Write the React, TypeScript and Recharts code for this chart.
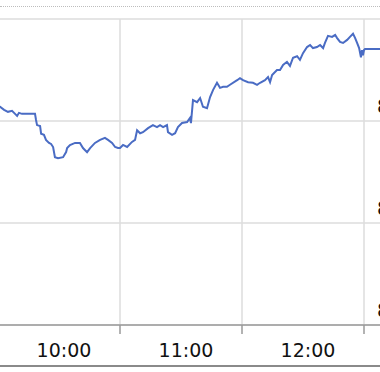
import { LineChart, Line, XAxis, YAxis, CartesianGrid } from 'recharts';

// minutes since midnight
const times = [
  570, 571, 573, 574.9, 576.9, 578.4, 579.4, 580.3, 581.8, 588.2, 588.7, 589.2,
  590.7, 591.2, 592.6, 593.6, 595.1, 596.1, 597.1, 598, 599.5, 602, 603.5, 604,
  605.4, 607.9, 610.3, 611.8, 613.8, 615.3, 617.7, 620.2, 622.6, 624.1, 626.1,
  627.6, 629, 630, 631.5, 633.5, 635.9, 637.4, 638.4, 639.9, 641.3, 643.8, 646.2,
  648.2, 649.7, 651.2, 653.1, 653.6, 655.6, 657.1, 658.5, 660.5, 663, 664.4,
  664.9, 665.9, 667.9, 669.4, 670.8, 672.8, 674.3, 675.8, 677.7, 679.2, 680.7,
  682.6, 684.1, 687.6, 689, 690.5, 693, 695.4, 697.4, 698.9, 701.3, 702.8, 703.8,
  704.8, 707.2, 708.7, 710.2, 712.1, 713.6, 715.1, 717.1, 718.5, 720, 722, 723.5,
  724.9, 726.9, 728.4, 729.9, 730.8, 732.3, 734.3, 735.8, 736.7, 738.2, 739.7,
  741.7, 743.1, 744.6, 745.6, 746.6, 747.6, 748.5, 749, 749.5, 750, 750.5, 780,
];

const prices = [
  8402.8, 8402.8, 8402.2, 8401.8, 8402.0, 8401.4, 8401.0, 8401.6, 8401.4, 8401.4,
  8400.2, 8399.2, 8399.0, 8397.5, 8397.3, 8396.3, 8395.7, 8395.5, 8394.9, 8392.9,
  8392.7, 8392.9, 8393.9, 8394.7, 8395.3, 8395.7, 8395.7, 8394.7, 8393.9, 8394.7,
  8395.7, 8396.3, 8396.7, 8396.3, 8395.7, 8394.9, 8394.7, 8394.7, 8395.3, 8394.9,
  8395.9, 8396.3, 8398.2, 8397.6, 8397.8, 8398.6, 8399.2, 8398.8, 8399.2, 8398.8,
  8399.2, 8397.8, 8397.3, 8397.6, 8398.8, 8399.6, 8399.8, 8400.6, 8399.6, 8404.1,
  8403.7, 8404.5, 8402.8, 8402.5, 8404.7, 8406.1, 8407.5, 8406.5, 8406.7, 8406.7,
  8407.1, 8408.0, 8408.4, 8408.0, 8407.6, 8407.5, 8407.1, 8407.5, 8408.0, 8408.6,
  8407.6, 8409.0, 8410.0, 8410.0, 8411.0, 8411.6, 8410.8, 8412.4, 8412.7, 8412.0,
  8413.3, 8414.5, 8414.9, 8414.3, 8414.5, 8414.9, 8414.3, 8415.3, 8416.7, 8416.5,
  8416.9, 8416.3, 8415.5, 8415.3, 8415.9, 8416.5, 8417.1, 8416.3, 8415.3, 8414.3,
  8412.5, 8413.9, 8412.9, 8413.9, 8414.1, 8414.1,
];

const gridTicks = [630, 690, 750];
const labelTicks = [600, 660, 720];
const priceTicks = [8360, 8380, 8400, 8420];

const data = times.map((t, i) => ({ t, price: prices[i] }));

const fmtTime = (m: number) =>
  `${Math.floor(m / 60)}:${String(m % 60).padStart(2, '0')}`;

const font = '"DejaVu Sans", Verdana, sans-serif';

export default function App() {
  return (
    <div
      style={{
        position: 'fixed',
        left: 0,
        top: 0,
        width: 380,
        height: 372,
        overflow: 'hidden',
        background: '#fff',
      }}
    >
      <div
        style={{
          position: 'absolute',
          left: 0,
          right: 0,
          top: 6,
          borderTop: '1px dotted #bdbdbd',
        }}
      />
      <div style={{ position: 'absolute', left: -2, top: 0 }}>
        <LineChart
          width={487}
          height={372}
          data={data}
          margin={{ top: 19, right: 0, left: 0, bottom: 0 }}
        >
          <CartesianGrid stroke="#dcdcdc" strokeWidth={1.5} />
          <XAxis
            dataKey="t"
            type="number"
            domain={[570, 780]}
            allowDataOverflow
            ticks={gridTicks}
            tickFormatter={() => ''}
            tickSize={9}
            height={10}
            stroke="#9a9a9a"
            strokeWidth={1.5}
          />
          <XAxis
            xAxisId="labels"
            dataKey="t"
            type="number"
            domain={[570, 780]}
            allowDataOverflow
            ticks={labelTicks}
            tickFormatter={fmtTime}
            axisLine={false}
            tickLine={false}
            tickSize={0}
            tickMargin={9}
            height={37}
            tick={{ fontSize: 19, fill: '#111', fontFamily: font, dx: 5 }}
          />
          <YAxis
            orientation="right"
            width={60}
            domain={[8360, 8420]}
            ticks={priceTicks}
            allowDataOverflow
            axisLine={false}
            tickLine={false}
            tickFormatter={(v: number) =>
              v === 8420 ? '' : v.toLocaleString('en-US')
            }
            tick={{ fontSize: 19, fill: '#111', fontFamily: font, dx: -56, dy: -15 }}
          />
          <Line
            type="linear"
            dataKey="price"
            stroke="#4a6cc4"
            strokeWidth={2}
            dot={false}
            isAnimationActive={false}
          />
        </LineChart>
      </div>
      <div
        style={{
          position: 'absolute',
          left: 0,
          right: 0,
          top: 365,
          borderTop: '2px solid #8a8a8a',
        }}
      />
    </div>
  );
}
